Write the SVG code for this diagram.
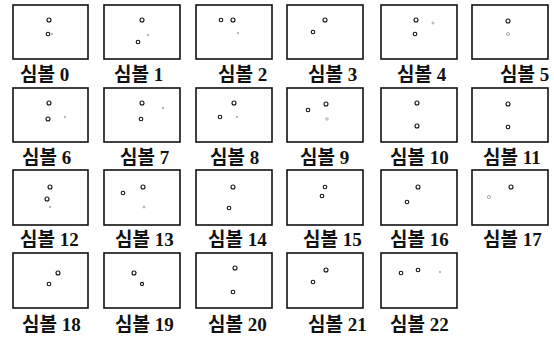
<svg xmlns="http://www.w3.org/2000/svg" width="554" height="337" viewBox="0 0 554 337">
<style>
.box{fill:#fff;stroke:#111;stroke-width:1.6}
.pt{fill:none;stroke:#111;stroke-width:1.1}
.ft{fill:none;stroke:#999;stroke-width:0.8}
.lbl{font-family:"Liberation Serif","Noto Sans CJK KR",serif;font-size:19px;font-weight:bold;fill:#111}
</style>
<rect width="554" height="337" fill="#fff"/>
<g id="s0"><rect class="box" x="13" y="5" width="75" height="54"/><circle class="pt" cx="49" cy="20" r="2"/><circle class="pt" cx="48" cy="34" r="1.8"/><circle class="ft" cx="52" cy="34" r="0.8"/><text class="lbl" x="20" y="81">심볼 0</text></g>
<g id="s1"><rect class="box" x="104" y="5" width="76" height="54"/><circle class="pt" cx="142" cy="20" r="2"/><circle class="pt" cx="138" cy="42" r="1.8"/><circle class="ft" cx="148" cy="35" r="0.8"/><text class="lbl" x="114" y="81">심볼 1</text></g>
<g id="s2"><rect class="box" x="196" y="5" width="76" height="54"/><circle class="pt" cx="221" cy="20" r="1.8"/><circle class="pt" cx="233" cy="20" r="2"/><circle class="ft" cx="238" cy="33" r="0.8"/><text class="lbl" x="218" y="81">심볼 2</text></g>
<g id="s3"><rect class="box" x="287" y="5" width="76" height="54"/><circle class="pt" cx="325" cy="20" r="2"/><circle class="pt" cx="313" cy="32" r="1.8"/><text class="lbl" x="308" y="81">심볼 3</text></g>
<g id="s4"><rect class="box" x="381" y="5" width="76" height="54"/><circle class="pt" cx="416" cy="20" r="2"/><circle class="pt" cx="415" cy="34" r="1.8"/><circle class="ft" cx="433" cy="23" r="1"/><text class="lbl" x="397" y="81">심볼 4</text></g>
<g id="s5"><rect class="box" x="472" y="5" width="76" height="54"/><circle class="pt" cx="508" cy="21" r="2"/><circle class="ft" cx="508" cy="34" r="1.5"/><text class="lbl" x="500" y="81">심볼 5</text></g>

<g id="s6"><rect class="box" x="13" y="88" width="75" height="54"/><circle class="pt" cx="49" cy="103" r="2"/><circle class="pt" cx="48" cy="119" r="2"/><circle class="ft" cx="65" cy="117" r="0.8"/><text class="lbl" x="22" y="164">심볼 6</text></g>
<g id="s7"><rect class="box" x="104" y="88" width="76" height="54"/><circle class="pt" cx="142" cy="103" r="2"/><circle class="pt" cx="141" cy="119" r="1.8"/><circle class="ft" cx="163" cy="108" r="0.8"/><text class="lbl" x="120" y="164">심볼 7</text></g>
<g id="s8"><rect class="box" x="196" y="88" width="76" height="54"/><circle class="pt" cx="234" cy="103" r="2"/><circle class="pt" cx="220" cy="117" r="1.8"/><circle class="ft" cx="237" cy="117" r="0.7"/><text class="lbl" x="210" y="164">심볼 8</text></g>
<g id="s9"><rect class="box" x="287" y="88" width="76" height="54"/><circle class="pt" cx="326" cy="104" r="2"/><circle class="pt" cx="308" cy="110" r="1.8"/><circle class="ft" cx="327" cy="119" r="1.2"/><text class="lbl" x="300" y="164">심볼 9</text></g>
<g id="s10"><rect class="box" x="381" y="88" width="76" height="54"/><circle class="pt" cx="417" cy="103" r="2"/><circle class="pt" cx="417" cy="126" r="2"/><text class="lbl" x="390" y="164">심볼 10</text></g>
<g id="s11"><rect class="box" x="472" y="88" width="76" height="54"/><circle class="pt" cx="508" cy="104" r="2"/><circle class="pt" cx="508" cy="127" r="1.8"/><text class="lbl" x="483" y="164">심볼 11</text></g>

<g id="s12"><rect class="box" x="13" y="170" width="75" height="55"/><circle class="pt" cx="50" cy="187" r="2"/><circle class="pt" cx="47" cy="199" r="2"/><circle class="ft" cx="50" cy="207" r="0.8"/><text class="lbl" x="20" y="246">심볼 12</text></g>
<g id="s13"><rect class="box" x="104" y="170" width="76" height="55"/><circle class="pt" cx="143" cy="187" r="2"/><circle class="pt" cx="123" cy="193" r="1.8"/><circle class="ft" cx="144" cy="207" r="1"/><text class="lbl" x="115" y="246">심볼 13</text></g>
<g id="s14"><rect class="box" x="196" y="170" width="76" height="55"/><circle class="pt" cx="233" cy="187" r="2"/><circle class="pt" cx="229" cy="208" r="1.8"/><text class="lbl" x="208" y="246">심볼 14</text></g>
<g id="s15"><rect class="box" x="287" y="170" width="76" height="55"/><circle class="pt" cx="325" cy="187" r="1.8"/><circle class="pt" cx="322" cy="196" r="1.8"/><text class="lbl" x="303" y="246">심볼 15</text></g>
<g id="s16"><rect class="box" x="381" y="170" width="76" height="55"/><circle class="pt" cx="418" cy="187" r="2"/><circle class="pt" cx="407" cy="202" r="1.8"/><text class="lbl" x="390" y="246">심볼 16</text></g>
<g id="s17"><rect class="box" x="472" y="170" width="76" height="55"/><circle class="pt" cx="511" cy="187" r="2"/><circle class="ft" cx="489" cy="197" r="1.6"/><text class="lbl" x="483" y="246">심볼 17</text></g>

<g id="s18"><rect class="box" x="13" y="253" width="75" height="55"/><circle class="pt" cx="58" cy="273" r="2"/><circle class="pt" cx="49" cy="284" r="1.8"/><text class="lbl" x="22" y="331">심볼 18</text></g>
<g id="s19"><rect class="box" x="104" y="253" width="76" height="55"/><circle class="pt" cx="134" cy="273" r="2"/><circle class="pt" cx="142" cy="284" r="1.6"/><text class="lbl" x="115" y="331">심볼 19</text></g>
<g id="s20"><rect class="box" x="196" y="253" width="76" height="55"/><circle class="pt" cx="235" cy="268" r="2"/><circle class="pt" cx="233" cy="292" r="1.8"/><text class="lbl" x="208" y="331">심볼 20</text></g>
<g id="s21"><rect class="box" x="287" y="253" width="76" height="55"/><circle class="pt" cx="326" cy="270" r="2"/><circle class="pt" cx="313" cy="282" r="1.8"/><text class="lbl" x="308" y="331">심볼 21</text></g>
<g id="s22"><rect class="box" x="381" y="253" width="76" height="55"/><circle class="pt" cx="401" cy="273" r="1.8"/><circle class="pt" cx="418" cy="270" r="1.8"/><circle class="ft" cx="440" cy="272" r="0.7"/><text class="lbl" x="390" y="331">심볼 22</text></g>
<g id="connectors"/>
</svg>
